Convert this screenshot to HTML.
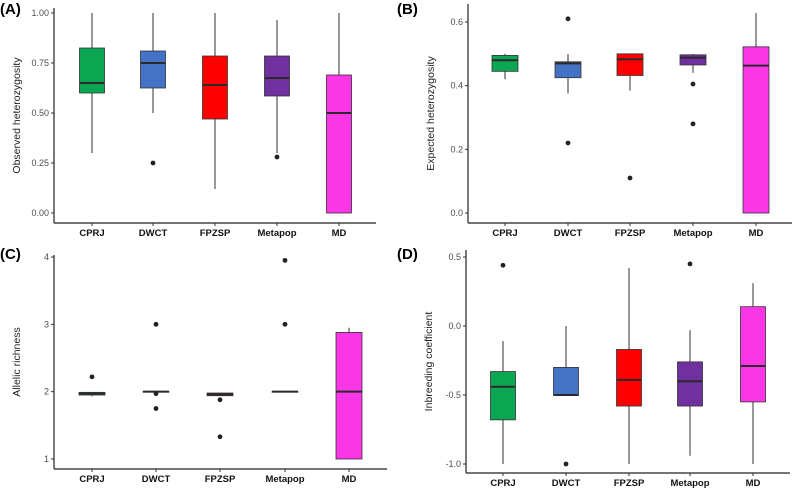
<!DOCTYPE html>
<html><head><meta charset="utf-8"><style>
body{margin:0;background:#fff;width:796px;height:491px;overflow:hidden;font-family:"Liberation Sans",sans-serif}
svg text{font-family:"Liberation Sans",sans-serif}
</style></head><body>
<svg id="fig" width="796" height="491" viewBox="0 0 796 491" xmlns="http://www.w3.org/2000/svg"></svg>
<script>
const categories=["CPRJ","DWCT","FPZSP","Metapop","MD"];
const colors=["#0aa651","#4472c4","#ff0000","#7030a0","#fb36e6"];
// [min, q1, median, q3, max]
const obsHet=[[0.30,0.60,0.65,0.825,1.0],[0.50,0.625,0.75,0.81,1.0],[0.12,0.47,0.64,0.785,1.0],[0.30,0.585,0.675,0.785,0.965],[0,0,0.5,0.69,1.0]];
const obsHetOut=[[],[0.25],[],[0.28],[]];
const expHet=[[0.42,0.445,0.48,0.495,0.50],[0.375,0.425,0.47,0.475,0.50],[0.385,0.432,0.483,0.50,0.50],[0.44,0.465,0.488,0.497,0.50],[0,0,0.463,0.522,0.628]];
const expHetOut=[[],[0.61,0.22],[0.11],[0.405,0.28],[]];
const allelic=[[1.93,1.95,1.97,1.99,1.99],[2.0,2.0,2.0,2.0,2.0],[1.94,1.94,1.96,1.98,1.98],[2.0,2.0,2.0,2.0,2.0],[1,1,2,2.88,2.95]];
const allelicOut=[[2.22],[3.0,1.97,1.75],[1.88,1.33],[3.0,3.95],[]];
const inbreed=[[-1.0,-0.68,-0.44,-0.33,-0.11],[-0.5,-0.5,-0.5,-0.30,0.0],[-1.0,-0.58,-0.39,-0.17,0.42],[-0.94,-0.58,-0.40,-0.26,-0.03],[-1.0,-0.55,-0.29,0.14,0.31]];
const inbreedOut=[[0.44],[-1.0],[],[0.45],[]];
const ticksA=["0.00","0.25","0.50","0.75","1.00"];
const ticksB=["0.0","0.2","0.4","0.6"];
const ticksC=["1","2","3","4"];
const ticksD=["-1.0","-0.5","0.0","0.5"];

const svg=document.getElementById('fig');
const NS="http://www.w3.org/2000/svg";
function mk(tag,attrs,parent){const e=document.createElementNS(NS,tag);for(const k in attrs)e.setAttribute(k,attrs[k]);(parent||svg).appendChild(e);return e;}

const panels=[
 {label:"(A)",lx:0,ly:14,ax:54,axEnd:376,top:8,base:223,y0:0,y1:1,py0:213,py1:13,cx:[92,153,215,277,339],title:"Observed heterozygosity",data:obsHet,out:obsHetOut,ticks:ticksA,bw:25,name:"panel-a"},
 {label:"(B)",lx:397,ly:14,ax:468,axEnd:792,top:4,base:223,y0:0,y1:0.6,py0:213,py1:22,cx:[505,568,630,693,756],title:"Expected heterozygosity",data:expHet,out:expHetOut,ticks:ticksB,bw:26,name:"panel-b"},
 {label:"(C)",lx:0,ly:259,ax:54,axEnd:387,top:255,base:469,y0:1,y1:4,py0:459,py1:257,cx:[92,156,220,285,349],title:"Allelic richness",data:allelic,out:allelicOut,ticks:ticksC,bw:26,name:"panel-c"},
 {label:"(D)",lx:397,ly:259,ax:466,axEnd:790,top:250,base:473,y0:-1,y1:0.5,py0:464,py1:257,cx:[503,566,629,690,753],title:"Inbreeding coefficient",data:inbreed,out:inbreedOut,ticks:ticksD,bw:25,name:"panel-d"}
];

panels.forEach(p=>{
 const g=mk('g',{});
 
 
 const Y=v=>p.py0+(v-p.y0)/(p.y1-p.y0)*(p.py1-p.py0);
 const lab=mk('text',{x:p.lx,y:p.ly,'font-size':15,'font-weight':'bold',fill:'#000'},g);lab.textContent=p.label;
 
 const ya=mk('line',{x1:p.ax,y1:p.top,x2:p.ax,y2:p.base,stroke:'#222','stroke-width':1.2},g);
 
 const xa=mk('line',{x1:p.ax,y1:p.base,x2:p.axEnd,y2:p.base,stroke:'#222','stroke-width':1.2},g);
 
 p.ticks.forEach(t=>{const y=Y(parseFloat(t));
  const tl=mk('line',{x1:p.ax-3,y1:y,x2:p.ax,y2:y,stroke:'#333'},g);
  
  const tt=mk('text',{x:p.ax-5,y:y+3,'font-size':9,fill:'#4d4d4d','text-anchor':'end'},g);tt.textContent=t;
  
 });
 const midY=(p.top+p.base)/2;
 const at=mk('text',{x:0,y:0,'font-size':10.5,fill:'#222','text-anchor':'middle',transform:`translate(${p.ax-34},${midY}) rotate(-90)`},g);at.textContent=p.title;
 
 categories.forEach((c,i)=>{
  const x=p.cx[i],d=p.data[i],w=p.bw;
  const tk=mk('line',{x1:x,y1:p.base,x2:x,y2:p.base+3,stroke:'#333'},g);
  
  const cl=mk('text',{x:x,y:p.base+13,'font-size':9.5,'font-weight':'bold',fill:'#111','text-anchor':'middle'},g);cl.textContent=c;
  
  const wh=mk('line',{x1:x,y1:Y(d[0]),x2:x,y2:Y(d[4]),stroke:'#333','stroke-width':1},g);
  
  const bx=mk('rect',{x:x-w/2,y:Y(d[3]),width:w,height:Math.max(Y(d[1])-Y(d[3]),0.5),fill:colors[i],stroke:'#333','stroke-width':0.8},g);
  
  const md=mk('line',{x1:x-w/2,y1:Y(d[2]),x2:x+w/2,y2:Y(d[2]),stroke:'#2a2a2a','stroke-width':2},g);
  
  p.out[i].forEach(v=>{
   const o=mk('circle',{cx:x,cy:Y(v),r:2.4,fill:'#222'},g);
   
  });
 });
});
</script>
</body></html>
